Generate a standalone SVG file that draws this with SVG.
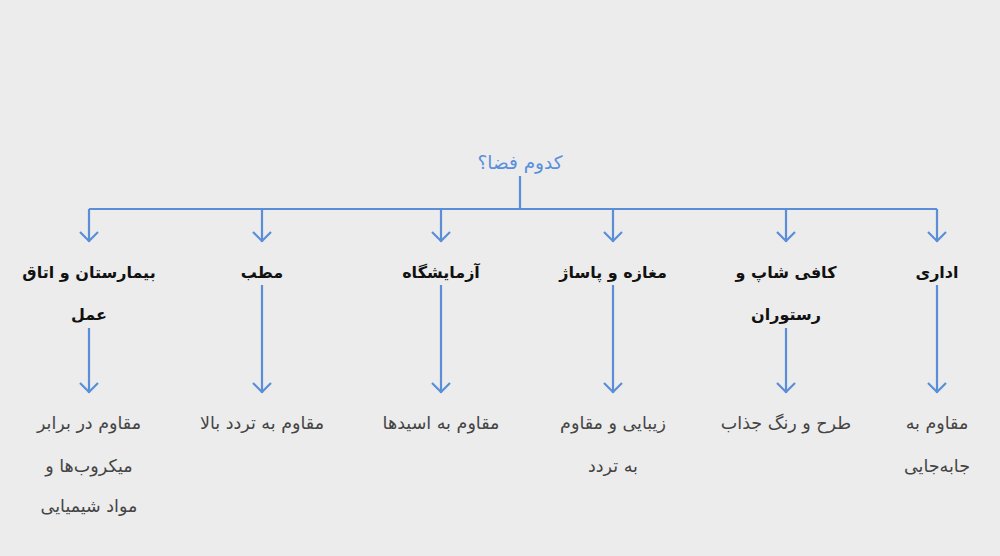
<svg xmlns="http://www.w3.org/2000/svg" width="1000" height="556" viewBox="0 0 1000 556">
<style>
text{font-family:"DejaVu Sans","Noto Sans",sans-serif;direction:rtl;text-anchor:middle;dominant-baseline:central}
.root{fill:#5a8fdc;font-size:18.5px}
.cat{fill:#111;font-size:16px;font-weight:bold}
.leaf{fill:#444;font-size:17.5px}
.ln{stroke:#5a8ed8;stroke-width:2.2;fill:none}
</style>
<defs>
<marker id="ah" viewBox="0 0 20 20" refX="11" refY="10" markerWidth="20" markerHeight="20" markerUnits="userSpaceOnUse" orient="auto">
<path d="M1,1 L10,10 L1,19" fill="none" stroke="#5a8ed8" stroke-width="2.2"/>
</marker>
</defs>
<rect width="1000" height="556" fill="#ececec"/>
<g id="connectors">
<path class="ln" d="M520,176 V209 M89,209 H937"/>
<path class="ln" marker-end="url(#ah)" d="M89,209 V242"/>
<path class="ln" marker-end="url(#ah)" d="M262,209 V242"/>
<path class="ln" marker-end="url(#ah)" d="M441,209 V242"/>
<path class="ln" marker-end="url(#ah)" d="M613,209 V242"/>
<path class="ln" marker-end="url(#ah)" d="M786,209 V242"/>
<path class="ln" marker-end="url(#ah)" d="M937,209 V242"/>
<path class="ln" marker-end="url(#ah)" d="M89,328 V393"/>
<path class="ln" marker-end="url(#ah)" d="M262,285 V393"/>
<path class="ln" marker-end="url(#ah)" d="M441,285 V393"/>
<path class="ln" marker-end="url(#ah)" d="M613,285 V393"/>
<path class="ln" marker-end="url(#ah)" d="M786,328 V393"/>
<path class="ln" marker-end="url(#ah)" d="M937,285 V393"/>
</g>
<g id="root"><text class="root" x="520" y="162">کدوم فضا؟</text></g>
<g id="n1"><text class="cat" x="89" y="272">بیمارستان و اتاق</text><text class="cat" x="89" y="314">عمل</text></g>
<g id="n2"><text class="cat" x="262" y="272">مطب</text></g>
<g id="n3"><text class="cat" x="441" y="272">آزمایشگاه</text></g>
<g id="n4"><text class="cat" x="613" y="272">مغازه و پاساژ</text></g>
<g id="n5"><text class="cat" x="786" y="272">کافی شاپ و</text><text class="cat" x="786" y="314">رستوران</text></g>
<g id="n6"><text class="cat" x="937" y="272">اداری</text></g>
<g id="l1"><text class="leaf" x="89" y="423">مقاوم در برابر</text><text class="leaf" x="89" y="466">میکروب‌ها و</text><text class="leaf" x="89" y="506">مواد شیمیایی</text></g>
<g id="l2"><text class="leaf" x="262" y="423">مقاوم به تردد بالا</text></g>
<g id="l3"><text class="leaf" x="441" y="423">مقاوم به اسیدها</text></g>
<g id="l4"><text class="leaf" x="613" y="423">زیبایی و مقاوم</text><text class="leaf" x="613" y="466">به تردد</text></g>
<g id="l5"><text class="leaf" x="786" y="423">طرح و رنگ جذاب</text></g>
<g id="l6"><text class="leaf" x="937" y="423">مقاوم به</text><text class="leaf" x="937" y="466">جابه‌جایی</text></g>
</svg>
